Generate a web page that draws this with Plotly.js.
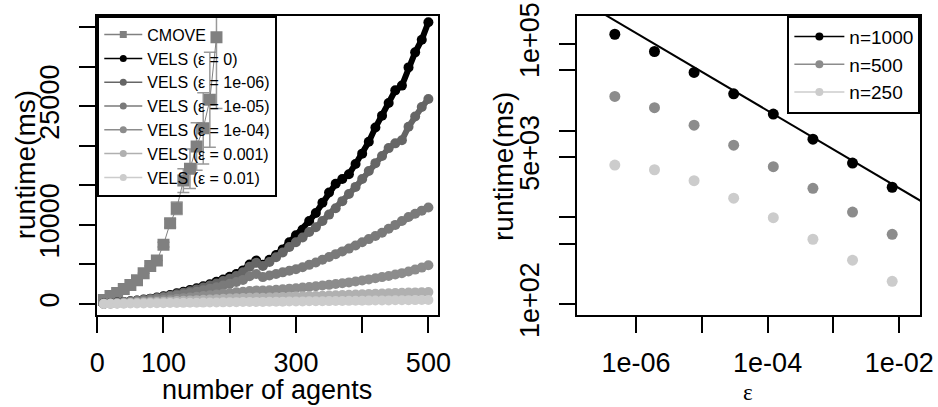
<!DOCTYPE html>
<html><head><meta charset="utf-8">
<script src="https://cdn.plot.ly/plotly-3.0.1.min.js"></script>
<style>html,body{margin:0;padding:0;background:#fff}</style>
</head><body><div id="chart" style="width:938px;height:407px"></div>
<script>
// ---------- left panel data ----------
const agents = [10,20,30,40,50,60,70,80,90,100,110,120,130,140,150,160,170,180,190,200,210,220,230,240,250,260,270,280,290,300,310,320,330,340,350,360,370,380,390,400,410,420,430,440,450,460,470,480,490,500];
const cmoveAgents = [10,20,30,40,50,60,70,80,90,100,110,120,130,140,150,160,170,180];
const cmoveRuntime = [500,1000,1400,1900,2400,3000,3900,4800,5500,7500,10200,12100,15600,17100,19900,22200,25800,33700];
const cmoveErr = [0,0,0,0,0,0,0,0,0,300,500,800,1500,2500,3000,4500,6000,9000];
const velsEps0 = [50,100,180,260,350,450,560,680,820,980,1150,1350,1560,1780,2000,2250,2500,2800,3100,3450,3800,4250,5000,5500,4950,5600,6200,6900,7800,8700,9400,10500,11500,12800,14100,15200,15800,16400,17700,19000,20500,22300,23800,25400,27000,27600,29900,31800,33400,35600];
const velsEps1e6 = [50,100,170,250,330,420,520,640,770,900,1050,1230,1420,1620,1850,2080,2330,2600,2900,3200,3550,4000,4700,5200,4800,5300,5900,6500,7200,7800,8400,9100,9700,10500,11300,12100,13000,13900,14800,15800,16800,17800,18700,19700,20300,20700,22400,23700,24900,25900];
const velsEps1e5 = [45,90,150,220,300,380,470,570,680,800,930,1070,1220,1380,1550,1730,1920,2120,2330,2550,2780,3050,3500,3800,3400,3600,3800,4000,4200,4400,4650,4950,5250,5600,5950,6300,6650,7000,7400,7800,8200,8600,9000,9500,10000,10500,11000,11400,11800,12200];
const velsEps1e4 = [30,60,100,140,190,240,300,360,430,500,580,660,740,830,920,1010,1100,1200,1300,1400,1480,1560,1640,1720,1700,1750,1800,1870,1940,2000,2080,2160,2240,2330,2420,2520,2620,2730,2850,2980,3110,3250,3400,3550,3720,3900,4100,4350,4600,4900];
const velsEps1e3 = [20,40,60,90,120,150,180,210,250,290,330,370,410,450,490,530,570,610,650,690,720,750,780,810,800,830,860,890,920,950,980,1000,1020,1050,1080,1110,1140,1170,1200,1230,1260,1290,1320,1350,1380,1410,1440,1470,1490,1510];
const velsEps1e2 = [10,20,35,45,55,65,75,90,100,110,120,135,145,155,165,180,190,200,210,225,235,245,255,270,270,280,290,300,310,320,330,340,350,360,370,380,390,400,410,420,430,440,450,460,470,480,490,495,500,505];
const leftNames = ['CMOVE','VELS (ε = 0)','VELS (ε = 1e-06)','VELS (ε = 1e-05)','VELS (ε = 1e-04)','VELS (ε = 0.001)','VELS (ε = 0.01)'];
const leftXTicks = [0,100,200,300,400,500];
const leftXTickText = ['0','100','','300','','500'];
const leftYTicks = [0,5000,10000,15000,20000,25000,30000,35000];
const leftYTickText = ['0','','10000','','','25000','',''];

// ---------- right panel data ----------
const eps = [4.77e-7,1.91e-6,7.63e-6,3.05e-5,1.22e-4,4.88e-4,1.95e-3,7.81e-3];
const runtimeN1000 = [130000,82200,47200,26700,15600,8000,4240,2230];
const runtimeN500 = [24900,18500,11600,6820,3850,2170,1153,638];
const runtimeN250 = [4020,3550,2655,1668,993,560,321,183];
const fitEps = [1e-7,1e-1];
const fitRuntime = [377000,774];
const rightNames = ['n=1000','n=500','n=250'];
const rightXTicks = [1e-6,1e-5,1e-4,1e-3,1e-2];
const rightXTickText = ['1e-06','','1e-04','','1e-02'];
const rightYTicks = [100,500,1000,5000,10000,50000,100000];
const rightYTickText = ['1e+02','','','5e+03','','','1e+05'];

const velsSeries = [velsEps0, velsEps1e6, velsEps1e5, velsEps1e4, velsEps1e3, velsEps1e2];
const leftColors = ['#808080','#000000','#666666','#7a7a7a','#8c8c8c','#b0b0b0','#cccccc'];
const rightColors = ['#000000','#8c8c8c','#cccccc'];

const traces = [];
traces.push({
  x: cmoveAgents, y: cmoveRuntime, type: 'scatter', mode: 'lines+markers', showlegend: false,
  xaxis: 'x', yaxis: 'y',
  line: {color: leftColors[0], width: 1},
  marker: {symbol: 'square', size: 12, color: leftColors[0]},
  error_y: {type: 'data', array: cmoveErr, color: '#999999', thickness: 1.5, width: 6}
});
velsSeries.forEach((s, i) => {
  traces.push({
    x: agents, y: s, type: 'scatter', mode: 'lines+markers', showlegend: false,
    xaxis: 'x', yaxis: 'y',
    line: {color: leftColors[i + 1], width: 6},
    marker: {symbol: 'circle', size: 10, color: leftColors[i + 1]}
  });
});
// legend keys (left)
leftNames.forEach((n, i) => {
  traces.push({
    x: [null], y: [null], name: n, type: 'scatter', mode: 'lines+markers',
    xaxis: 'x', yaxis: 'y', legend: 'legend',
    line: {color: leftColors[i], width: 1.5},
    marker: {symbol: i === 0 ? 'square' : 'circle', size: 7, color: leftColors[i]}
  });
});
// right panel
traces.push({
  x: fitEps, y: fitRuntime, type: 'scatter', mode: 'lines', showlegend: false,
  xaxis: 'x2', yaxis: 'y2', line: {color: '#000', width: 2}
});
[runtimeN1000, runtimeN500, runtimeN250].forEach((s, i) => {
  traces.push({
    x: eps, y: s, type: 'scatter', mode: 'markers', showlegend: false,
    xaxis: 'x2', yaxis: 'y2', marker: {size: 11, color: rightColors[i]}
  });
});
rightNames.forEach((n, i) => {
  traces.push({
    x: [null], y: [null], name: n, type: 'scatter', mode: 'lines+markers',
    xaxis: 'x2', yaxis: 'y2', legend: 'legend2',
    line: {color: rightColors[i], width: 1.5}, marker: {size: 8, color: rightColors[i]}
  });
});

const FONT = 'Liberation Sans, Arial, sans-serif';
const axisCommon = {
  showgrid: false, zeroline: false, showline: true, mirror: true,
  linecolor: '#000', linewidth: 2, ticks: 'outside', ticklen: 16, tickwidth: 2,
  tickcolor: '#000', tickfont: {family: FONT, size: 27, color: '#000'}
};
const titleFont = {family: FONT, size: 28, color: '#000'};
const layout = {
  width: 938, height: 407, margin: {l: 0, r: 0, t: 0, b: 0},
  paper_bgcolor: '#fff', plot_bgcolor: '#fff',
  font: {family: FONT, color: '#000'},
  xaxis: Object.assign({}, axisCommon, {
    domain: [0.1037, 0.4673], range: [0, 515], tickmode: 'array',
    tickvals: leftXTicks, ticktext: leftXTickText, ticklabelstandoff: 7
  }),
  yaxis: Object.assign({}, axisCommon, {
    domain: [0.226, 0.9614], range: [-1390, 36430], tickmode: 'array',
    tickvals: leftYTicks, ticktext: leftYTickText, tickangle: -90, ticklabelstandoff: 9
  }),
  xaxis2: Object.assign({}, axisCommon, {
    domain: [0.6148, 0.9808], type: 'log', range: [-6.901, -1.685], anchor: 'y2',
    tickmode: 'array', tickvals: rightXTicks, ticktext: rightXTickText, ticklabelstandoff: 7
  }),
  yaxis2: Object.assign({}, axisCommon, {
    domain: [0.226, 0.9614], type: 'log', range: [1.874, 5.328], anchor: 'x2',
    tickmode: 'array', tickvals: rightYTicks, ticktext: rightYTickText, tickangle: -90, ticklabelstandoff: 9
  }),
  annotations: [
    {text: 'runtime(ms)', xref: 'paper', yref: 'paper', x: 0.0267, y: 0.594, textangle: -90,
     showarrow: false, xanchor: 'center', yanchor: 'middle', font: titleFont},
    {text: 'runtime(ms)', xref: 'paper', yref: 'paper', x: 0.5362, y: 0.592, textangle: -90,
     showarrow: false, xanchor: 'center', yanchor: 'middle', font: titleFont},
    {text: 'number of agents', xref: 'paper', yref: 'paper', x: 0.2846, y: 0.0,
     showarrow: false, xanchor: 'center', yanchor: 'bottom', font: {family: FONT, size: 27, color: '#000'}},
    {text: 'ε', xref: 'paper', yref: 'paper', x: 0.7974, y: 0.0,
     showarrow: false, xanchor: 'center', yanchor: 'bottom',
     font: {family: 'Liberation Serif, serif', size: 23, color: '#000'}}
  ],
  legend: {
    x: 0.1037, y: 0.9614, xanchor: 'left', yanchor: 'top', bgcolor: 'rgba(255,255,255,0)',
    bordercolor: '#000', borderwidth: 2, font: {family: FONT, size: 16, color: '#000'},
    itemwidth: 38, tracegroupgap: 0
  },
  legend2: {
    x: 0.8394, y: 0.9614, xanchor: 'left', yanchor: 'top', bgcolor: '#fff',
    bordercolor: '#000', borderwidth: 2, font: {family: FONT, size: 19, color: '#000'},
    itemwidth: 50
  },
  showlegend: true
};
Plotly.newPlot('chart', traces, layout, {staticPlot: true, displayModeBar: false});
</script></body></html>
